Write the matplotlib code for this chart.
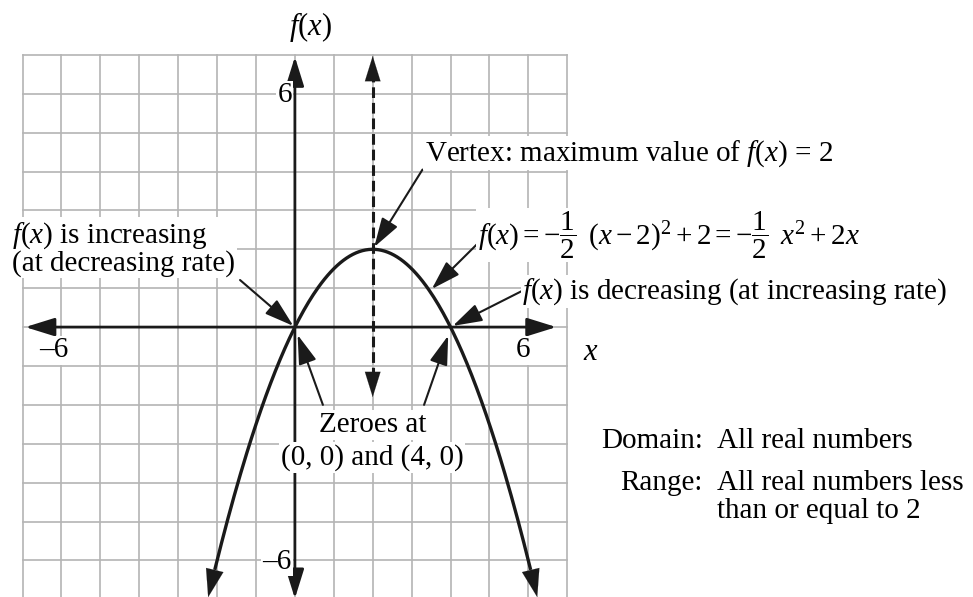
import numpy as np
import matplotlib.pyplot as plt

plt.rcParams['font.family'] = ['Liberation Serif', 'DejaVu Serif']
plt.rcParams['mathtext.fontset'] = 'custom'
plt.rcParams['mathtext.rm'] = 'Liberation Serif'
plt.rcParams['mathtext.it'] = 'Liberation Serif:italic'

# chart content
grid_min, grid_max = -7, 7
a, h, k = -0.5, 2, 2          # f(x) = a (x - h)^2 + k
curve_x = np.linspace(-2.05, 6.05, 200)
x_tick_vals = [-6, 6]
x_tick_labels = ['\u20136', '6']
y_tick_vals = [6, -6]
y_tick_labels = ['6', '\u20136']
zeroes = [(0, 0), (4, 0)]

FS = 21
GRID = '#b4b4b4'

def f(x):
    return a * (x - h) ** 2 + k

fig = plt.figure(figsize=(9.73, 5.97), dpi=100)
ax = fig.add_axes([0, 0, 1, 1])
ax.set_xlim(-7.58, 17.43)
ax.set_ylim(-6.94, 8.41)
ax.axis('off')

# grid
for g in range(grid_min, grid_max + 1):
    ax.plot([g, g], [-8, grid_max], color=GRID, lw=1.2, zorder=1)
    ax.plot([grid_min, grid_max], [g, g], color=GRID, lw=1.2, zorder=1)

def arrow(x0, y0, x1, y1, lw=1.5, style='-|>', hl=0.9, hw=0.28, ms=20, z=4):
    ax.annotate('', xy=(x1, y1), xytext=(x0, y0),
                arrowprops=dict(arrowstyle=f'{style},head_length={hl},head_width={hw}',
                                color='#1a1a1a', lw=lw, shrinkA=0, shrinkB=0,
                                mutation_scale=ms), zorder=z)

# axes
arrow(-6.93, 0, 6.72, 0, lw=2.0, style='<|-|>', z=3)
arrow(0, -6.98, 0, 6.95, lw=2.0, style='<|-|>', z=3)

# axis of symmetry (dashed)
ax.plot([h, h], [-1.3, 6.5], color='#1a1a1a', lw=2.2, ls=(0, (3.5, 1.6)), zorder=3)
arrow(h, 6.3, h, 6.97, lw=0.1, z=3)
arrow(h, -1.2, h, -1.8, lw=0.1, z=3)

# parabola
ax.plot(curve_x, f(curve_x), color='#1a1a1a', lw=2.4, zorder=4)
arrow(curve_x[0], f(curve_x[0]), -2.23, f(-2.23), lw=0.1, hl=1.0, hw=0.32)
arrow(curve_x[-1], f(curve_x[-1]), 6.23, f(6.23), lw=0.1, hl=1.0, hw=0.32)

wb = dict(fc='white', ec='none', pad=1.0)

# tick labels
for v, s in zip(x_tick_vals, x_tick_labels):
    ax.text(v - 0.2 if v < 0 else v - 0.14, -0.6, s, fontsize=FS, ha='center', va='center',
            bbox=wb, zorder=5)
for v, s in zip(y_tick_vals, y_tick_labels):
    ax.text(-0.08, v - 0.04, s, fontsize=FS, ha='right', va='center', bbox=wb, zorder=5)

# axis labels
ax.text(0.39, 7.72, r'$f(x)$', fontsize=FS + 1, ha='center', va='center')
ax.text(7.6, -0.66, r'$x$', fontsize=FS + 1, ha='center', va='center')

# annotations
ax.text(3.34, 4.47, r'Vertex: maximum value of $f(x)$ = 2', fontsize=FS,
        ha='left', va='center', bbox=wb, zorder=5)
arrow(3.28, 4.05, h + 0.04, k + 0.06)

ax.text(4.70, 2.36, r'$f(x) = -\dfrac{1}{2}\ \,(x - 2)^2 + 2 = -\dfrac{1}{2}\ \,x^2 + 2x$',
        fontsize=FS, ha='left', va='center', bbox=wb, zorder=5)
arrow(4.70, 2.15, 3.52, 0.98)

ax.text(5.84, 0.92, r'$f(x)$ is decreasing (at increasing rate)', fontsize=FS,
        ha='left', va='center', bbox=wb, zorder=5)
arrow(5.84, 0.93, zeroes[1][0] + 0.06, zeroes[1][1] + 0.03)

ax.text(-7.27, 2.02, '$f(x)$ is increasing\n(at decreasing rate)', fontsize=FS,
        ha='left', va='center', linespacing=0.95, bbox=wb, zorder=5)
arrow(-1.41, 1.21, zeroes[0][0] - 0.04, zeroes[0][1] + 0.03)

ax.text(2.0, -2.52, 'Zeroes at', fontsize=FS, ha='center', va='center',
        bbox=dict(fc='white', ec='none', pad=1.5), zorder=5)
ax.text(1.98, -3.35, '(0, 0) and (4, 0)', fontsize=FS, ha='center', va='center',
        bbox=dict(fc='white', ec='none', pad=1.5), zorder=5)
arrow(0.72, -2.0, zeroes[0][0] + 0.07, zeroes[0][1] - 0.2)
arrow(3.32, -2.0, zeroes[1][0] - 0.06, zeroes[1][1] - 0.22)

# domain and range
ax.text(10.49, -2.92, 'Domain:', fontsize=FS, ha='right', va='center')
ax.text(10.85, -2.92, 'All real numbers', fontsize=FS, ha='left', va='center')
ax.text(10.49, -4.0, 'Range:', fontsize=FS, ha='right', va='center')
ax.text(10.85, -4.0, 'All real numbers less', fontsize=FS, ha='left', va='center')
ax.text(10.85, -4.72, 'than or equal to 2', fontsize=FS, ha='left', va='center')

fig.savefig('out.png', dpi=100, facecolor='white')
